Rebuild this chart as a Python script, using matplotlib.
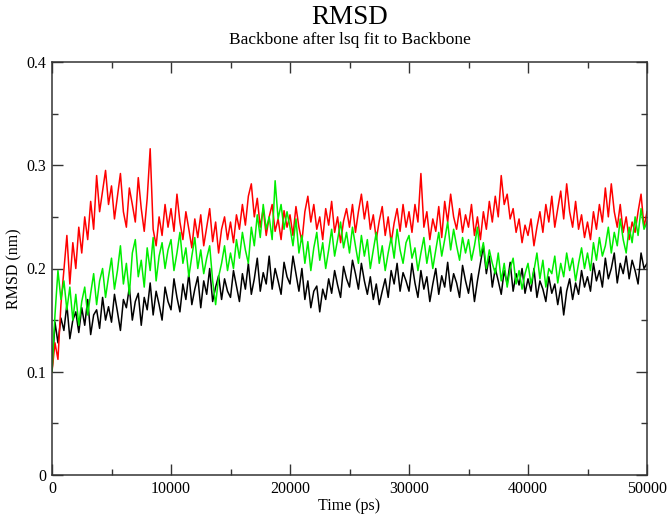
#!/usr/bin/env python3
"""RMSD of backbone over a 50 ns run, three trajectories, grace-like look."""

import numpy as np
import matplotlib
matplotlib.use("Agg")
import matplotlib.pyplot as plt

# sampling every 250 ps, values in thousandths of nm
t_step = 250
black_rmsd = [
    100, 148, 128, 152, 140, 165, 132, 150, 158, 138, 162, 145, 170, 136, 155, 160, 142, 172, 150, 163,
    148, 175, 158, 140, 170, 162, 182, 150, 168, 176, 145, 172, 160, 186, 155, 178, 165, 150, 182, 168,
    160, 190, 172, 158, 185, 170, 195, 165, 180, 192, 162, 188, 175, 200, 168, 182, 193, 170, 190, 178,
    172, 198, 183, 168, 195, 180, 205, 175, 190, 210, 178, 196, 185, 212, 180, 200, 188, 175, 206, 192,
    185, 212, 195, 178, 200, 170, 188, 162, 178, 183, 158, 180, 170, 190, 176, 198, 184, 172, 202, 190,
    182, 208, 195, 180, 205, 188, 175, 192, 170, 185, 165, 178, 190, 172, 198, 185, 205, 178, 196, 188,
    178, 205, 186, 172, 198, 180, 192, 168, 185, 200, 175, 193, 182, 206, 178, 195, 186, 172, 203, 188,
    176, 195, 168, 188, 205, 222, 195, 212, 182, 200, 188, 175, 198, 185, 206, 178, 195, 184, 200, 176,
    190, 178, 200, 172, 188, 180, 168, 192, 176, 185, 165, 182, 155, 178, 190, 170, 186, 175, 198, 182,
    192, 178, 205, 188, 198, 182, 210, 190, 200, 215, 186, 205, 195, 212, 190, 208, 198, 185, 215, 200,
    205,
]
red_rmsd = [
    100, 128, 112, 165, 198, 232, 185, 225, 200, 240, 215, 250, 228, 265, 238, 290, 255, 275, 295, 262,
    280, 248, 270, 292, 255, 240, 278, 262, 245, 288, 258, 236, 268, 316, 238, 222, 250, 232, 262, 240,
    258, 236, 272, 245, 228, 255, 238, 220, 248, 230, 252, 222, 240, 258, 226, 245, 215, 238, 250, 228,
    245, 225, 252, 238, 262, 242, 270, 282, 250, 268, 240, 258, 232, 250, 262, 236, 248, 228, 256, 240,
    252, 232, 260, 240, 226, 255, 270, 245, 262, 238, 250, 228, 258, 242, 265, 235, 250, 225, 246, 258,
    240, 262, 235, 255, 272, 248, 265, 238, 252, 228, 246, 260, 232, 250, 225, 244, 258, 236, 262, 240,
    255, 235, 262, 245, 292, 240, 255, 228, 248, 236, 260, 230, 265, 245, 272, 250, 238, 258, 235, 252,
    240, 262, 232, 250, 228, 255, 238, 265, 245, 270, 250, 290, 262, 272, 248, 258, 235, 248, 225, 242,
    232, 248, 222, 240, 255, 235, 262, 245, 270, 240, 258, 275, 248, 282, 255, 240, 265, 238, 252, 230,
    245, 228, 255, 238, 262, 245, 278, 250, 282, 255, 240, 262, 235, 250, 228, 245, 235, 255, 272, 240,
    255,
]
green_rmsd = [
    100, 155, 198, 170, 188, 160, 182, 150, 175, 145, 168, 182, 155, 176, 195, 165, 188, 200, 172, 192,
    210, 180, 198, 222, 185, 205, 175, 215, 228, 192, 208, 182, 220, 198, 230, 188, 212, 225, 200, 218,
    228, 198, 215, 235, 205, 220, 192, 212, 230, 200, 218, 195, 210, 222, 188, 165, 192, 205, 222, 198,
    215, 200, 228, 210, 235, 218, 205, 240, 222, 252, 230, 262, 238, 250, 228, 285, 248, 262, 238, 255,
    240, 222, 248, 215, 232, 205, 226, 198, 220, 235, 208, 225, 200, 218, 238, 212, 228, 245, 220, 235,
    215, 240, 222, 205, 232, 212, 228, 200, 218, 235, 205, 222, 198, 215, 230, 210, 238, 218, 205, 225,
    232, 210, 220, 198, 215, 230, 205, 222, 200, 218, 235, 212, 228, 245, 218, 238, 222, 208, 230, 215,
    228, 208, 222, 240, 212, 225, 200, 218, 205, 195, 215, 188, 205, 182, 200, 210, 185, 198, 180, 195,
    205, 185, 198, 215, 190, 208, 182, 200, 195, 212, 186, 205, 192, 215, 198, 210, 188, 205, 220, 200,
    215, 198, 225, 208, 230, 212, 222, 240, 215, 235, 222, 248, 228, 215, 240, 225, 250, 232, 258, 238,
    245,
]

time_ps = np.arange(len(black_rmsd)) * t_step
black = np.array(black_rmsd) / 1000.0
red = np.array(red_rmsd) / 1000.0
green = np.array(green_rmsd) / 1000.0

plt.rcParams['font.family'] = ['Liberation Serif', 'DejaVu Serif']

fig = plt.figure(figsize=(6.69, 5.22), dpi=100)
ax = fig.add_axes([52 / 669, 47 / 522, 595 / 669, 413 / 522])

# black, then red, green drawn last
ax.plot(time_ps, black, color='black', lw=1.1)
ax.plot(time_ps, red, color='#ff0000', lw=1.1)
ax.plot(time_ps, green, color='#00ee00', lw=1.1)

ax.set_xlim(0, 50000)
ax.set_ylim(0, 0.4)
ax.set_xticks(np.arange(0, 50001, 10000))
ax.set_xticks(np.arange(5000, 50000, 10000), minor=True)
ax.set_yticks([0, 0.1, 0.2, 0.3, 0.4])
ax.set_yticklabels(['0', '0.1', '0.2', '0.3', '0.4'])
ax.set_yticks(np.arange(0.05, 0.4, 0.1), minor=True)

ax.tick_params(which='both', direction='in', top=True, right=True,
               labelsize=11.5, width=1.0, color='#333333')
ax.tick_params(which='major', length=8, pad=4)
ax.tick_params(which='minor', length=4.5)
for sp in ax.spines.values():
    sp.set_linewidth(1.1)
    sp.set_color('#333333')

ax.set_xlabel("Time (ps)", fontsize=11.5, labelpad=1)
ax.set_ylabel("RMSD (nm)", fontsize=11.5, labelpad=3)

# title block
fig.text(349.5 / 669, 1 - 17 / 522, "RMSD", ha='center', va='center', fontsize=19.5)
fig.text(349.5 / 669, 1 - 40 / 522, "Backbone after lsq fit to Backbone",
         ha='center', va='center', fontsize=12.5)

fig.savefig("out.png", dpi=100)
